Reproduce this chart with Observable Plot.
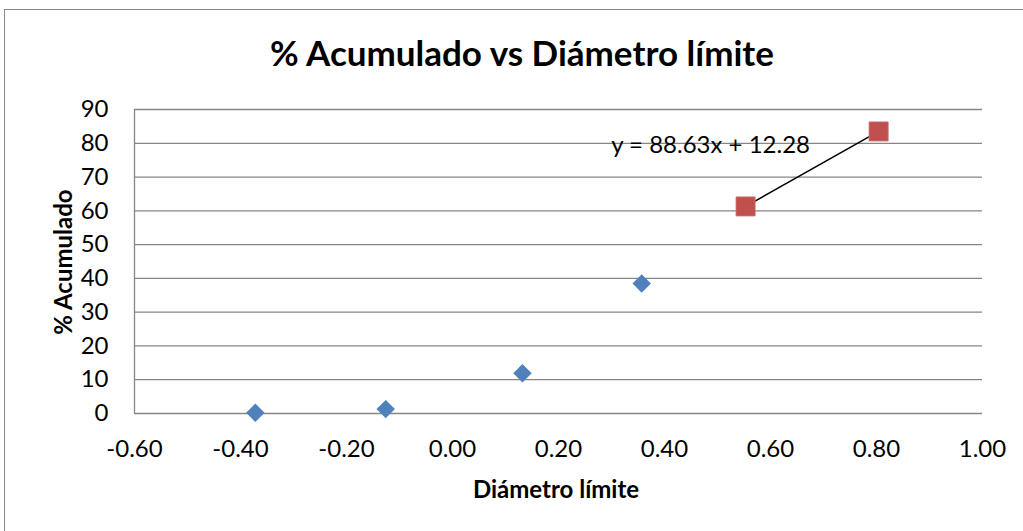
<!DOCTYPE html>
<html>
<head>
<meta charset="utf-8">
<script src="https://cdn.jsdelivr.net/npm/d3@7"></script>
<script src="https://cdn.jsdelivr.net/npm/@observablehq/plot@0.6"></script>
<style>
  html, body { margin: 0; padding: 0; background: #fff; }
  #chart { position: relative; width: 1023px; height: 531px; overflow: hidden; font-family: Lato, "Open Sans", sans-serif; color: #000; }
  #frame { position: absolute; left: 4px; top: 9px; width: 1030px; height: 540px; border: 1px solid #888; box-sizing: border-box; }
  #plot { position: absolute; left: 0; top: 0; }
  .title { position: absolute; left: 0; width: 1044px; top: 31px; text-align: center; font-weight: 700; font-size: 35px; white-space: nowrap; }
  .xlabel { position: absolute; left: 0; width: 1112px; top: 474px; text-align: center; font-weight: 700; font-size: 24px; white-space: nowrap; }
  .ylabel { position: absolute; left: 62px; top: 262px; transform: translate(-50%, -50%) rotate(-90deg); font-weight: 700; font-size: 24px; white-space: nowrap; }
</style>
</head>
<body>
<div id="chart">
  <div id="frame"></div>
  <div id="plot"></div>
  <div class="title">% Acumulado vs Diámetro límite</div>
  <div class="ylabel">% Acumulado</div>
  <div class="xlabel">Diámetro límite</div>
</div>
<script>
// Cumulative percentage against limiting diameter
const diamX = [-0.372, -0.126, 0.132, 0.357];
const diamY = [0.2, 1.3, 11.9, 38.5];

// Points used for the linear fit
const fitX = [0.553, 0.804];
const fitY = [61.3, 83.5];

// Fitted line y = slope * x + intercept
const slope = 88.63;
const intercept = 12.28;
const equationText = "y = 88.63x + 12.28";

const xTicks = [-0.6, -0.4, -0.2, 0, 0.2, 0.4, 0.6, 0.8, 1.0];
const yTicks = [0, 10, 20, 30, 40, 50, 60, 70, 80, 90];

const blue = diamX.map((x, i) => ({x, y: diamY[i]}));
const red = fitX.map((x, i) => ({x, y: fitY[i]}));
const trend = fitX.map(x => ({x, y: slope * x + intercept}));

const grid = "#868686";

const plot = Plot.plot({
  width: 1023,
  height: 531,
  marginLeft: 134,
  marginRight: 41,
  marginTop: 109,
  marginBottom: 118,
  style: {fontFamily: "Lato, 'Open Sans', sans-serif", fontSize: "24px", color: "#000", background: "transparent"},
  x: {domain: [-0.6, 1.0], ticks: xTicks, tickFormat: d => d.toFixed(2), label: null},
  y: {domain: [0, 90], ticks: yTicks, label: null},
  marks: [
    Plot.ruleY(yTicks, {stroke: grid, strokeWidth: 1.3}),
    Plot.ruleX([-0.6], {stroke: grid, strokeWidth: 1.3}),
    Plot.axisX({ticks: xTicks, tickFormat: d => d.toFixed(2), tickSize: 0, tickPadding: 26, fontSize: 24, label: null}),
    Plot.axisY({ticks: yTicks, tickSize: 0, tickPadding: 26, fontSize: 24, label: null}),
    Plot.line(trend, {x: "x", y: "y", stroke: "#000", strokeWidth: 1.5}),
    Plot.dot(blue, {x: "x", y: "y", symbol: "diamond2", r: 8.3, fill: "#4F81BD", stroke: "none"}),
    Plot.dot(red, {x: "x", y: "y", symbol: "square", r: 10.8, fill: "#C0504D", stroke: "#D07673", strokeWidth: 0.8}),
    Plot.text([equationText], {x: [0.487], y: [79.3], text: d => d, fontSize: 24, fill: "#000"})
  ]
});
document.getElementById("plot").appendChild(plot);
</script>
</body>
</html>
